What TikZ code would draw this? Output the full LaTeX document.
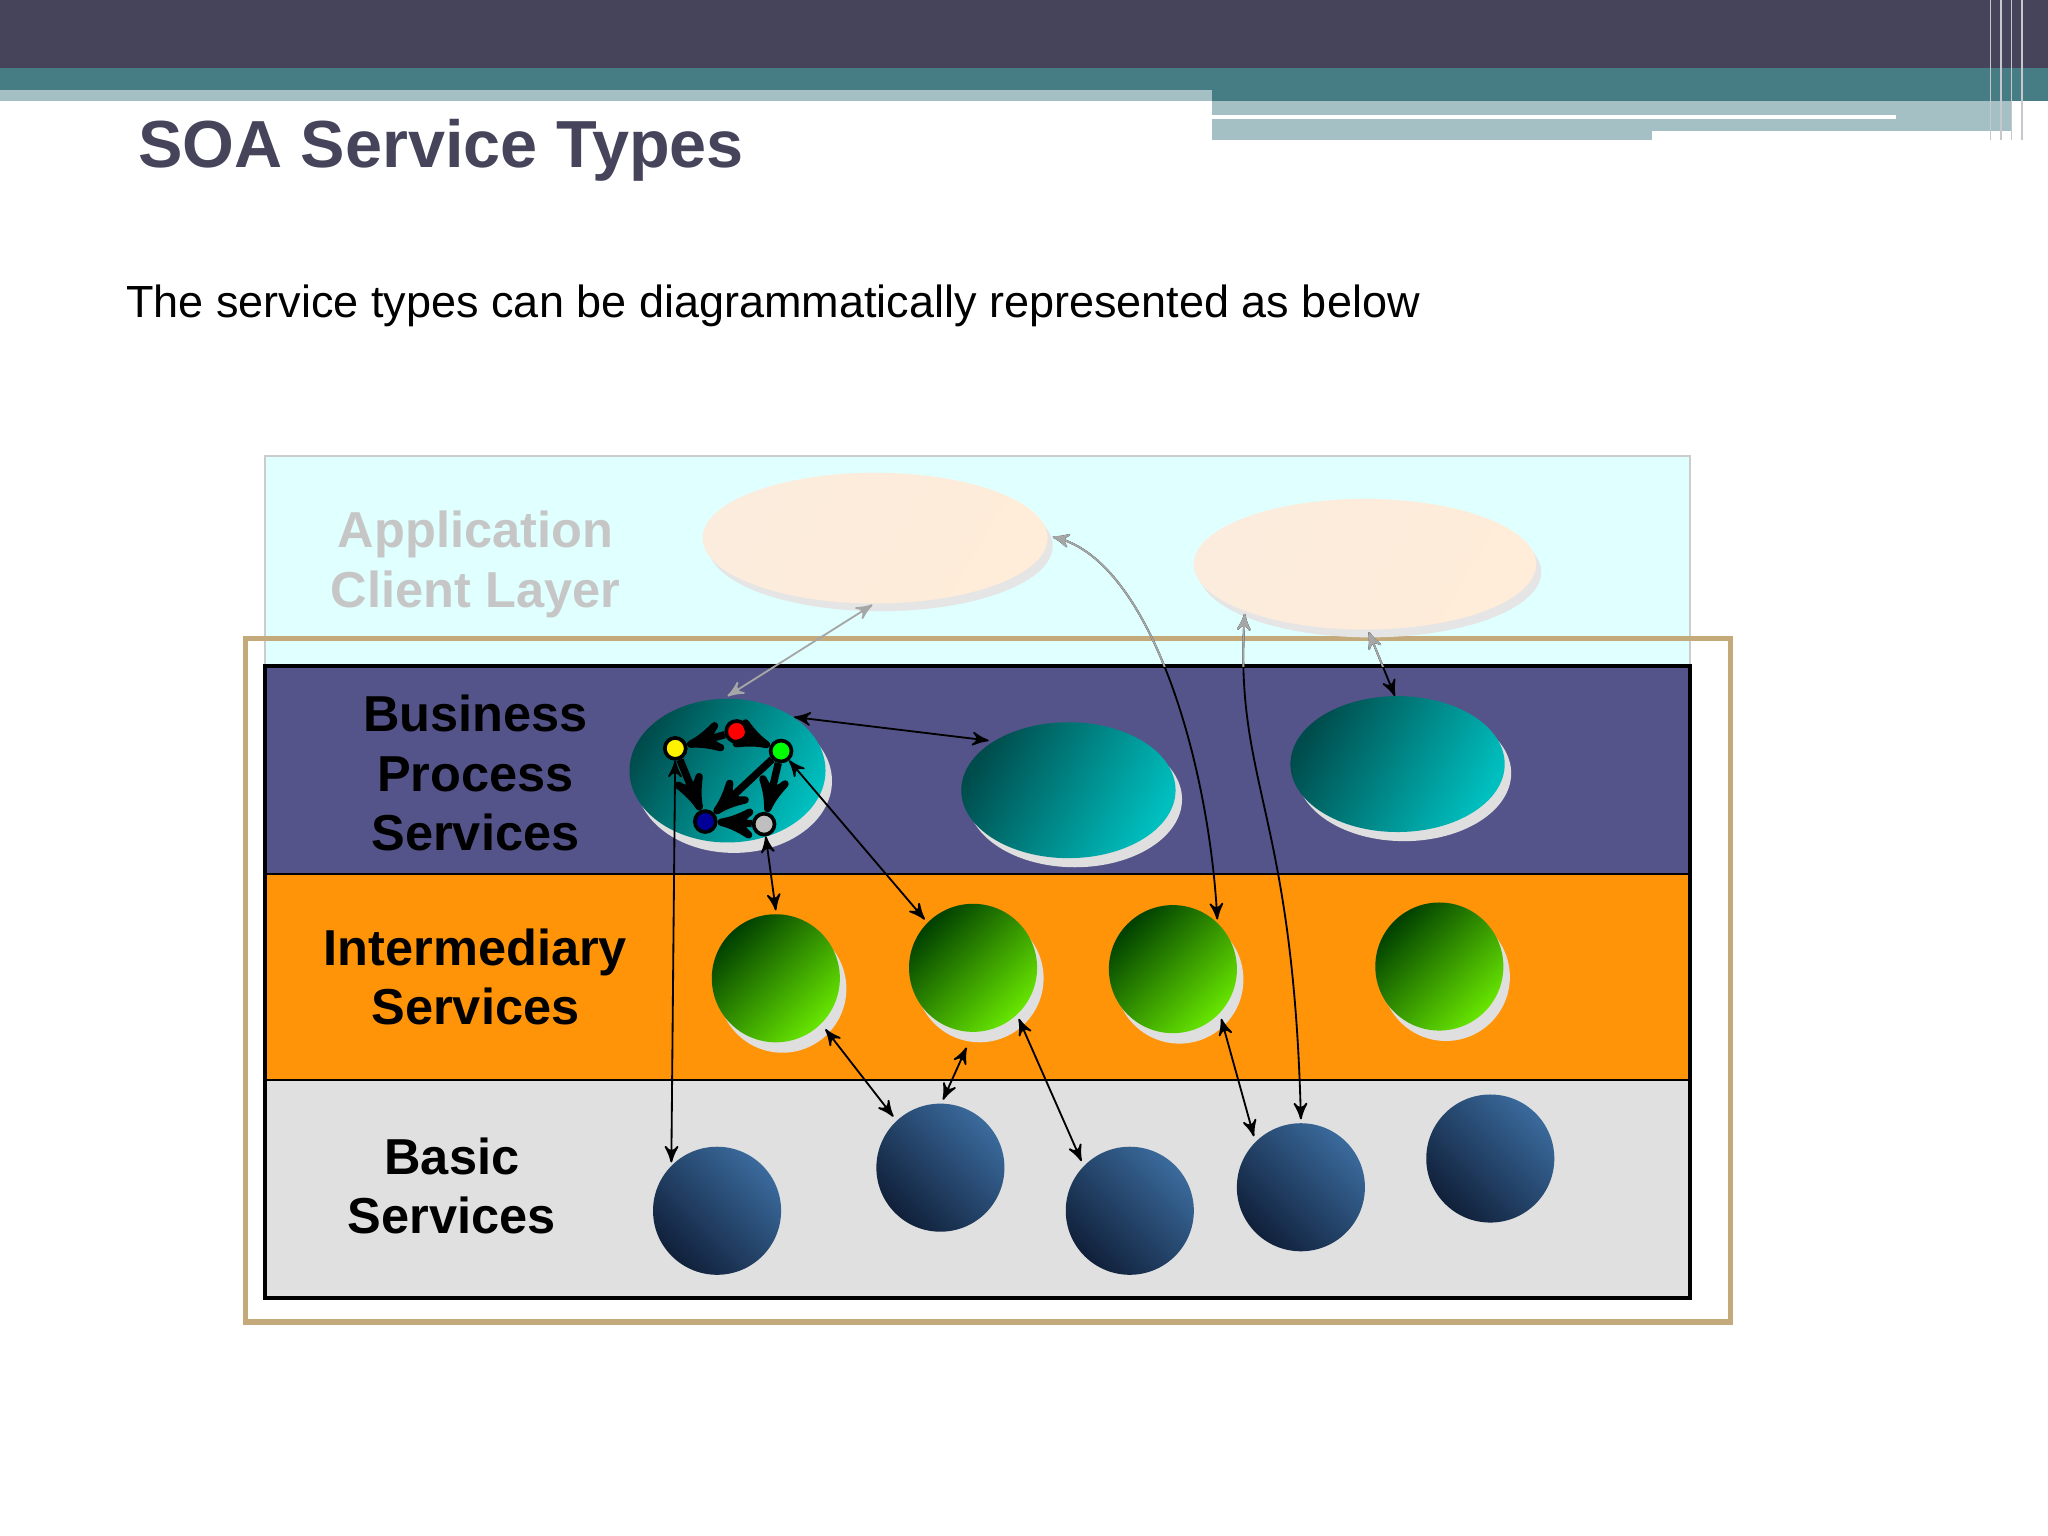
\documentclass[tikz,border=0pt]{standalone}
\usepackage{fontspec}
\setmainfont{Liberation Sans}
\usetikzlibrary{arrows, shapes.geometric}
\definecolor{hdark}{HTML}{45445A}
\definecolor{hteal}{HTML}{467D85}
\definecolor{hlight}{HTML}{A5C0C5}
\definecolor{appbg}{HTML}{E0FFFF}
\definecolor{bizbg}{HTML}{55548A}
\definecolor{midbg}{HTML}{FF9408}
\definecolor{basbg}{HTML}{E0E0E0}
\definecolor{frame}{HTML}{C4A97A}
\definecolor{balltop}{HTML}{3A6A9C}
\definecolor{ballbot}{HTML}{10203A}
\begin{document}
\begin{tikzpicture}[x=0.01cm, y=-0.01cm, >=stealth']
  \tikzstyle{lbl}=[font=\fontsize{11}{13}\selectfont\bfseries, align=center]
  \tikzstyle{app}=[ellipse, minimum width=2.64cm, minimum height=1cm, left color=white!85!gray!60!orange!30, right color=orange!15, shading angle=60]
  \tikzstyle{biz}=[ellipse, minimum width=1.64cm, minimum height=1.04cm, left color=teal!60!black, right color=cyan!50!teal, shading angle=60]
  \tikzstyle{mid}=[circle, minimum size=0.98cm, left color=green!25!black, right color=lime!60!green!90!black, shading angle=45]
  \tikzstyle{bas}=[circle, minimum size=0.98cm, left color=balltop, right color=ballbot, shading angle=-45]
  \tikzstyle{dot}=[circle, draw=black, thick, minimum size=0.16cm, inner sep=0pt]
  \tikzstyle{lnk}=[<->, black, thin]
  \tikzstyle{fat}=[->, black, line width=1.6pt]

  \useasboundingbox (0,0) rectangle (1568,1176);
  % header
  \fill[hdark] (0,0) rectangle (1568,52);
  \fill[hteal] (0,52) rectangle (1568,77);
  \fill[hlight] (0,69) rectangle (928,77);
  \fill[hlight] (928,77) rectangle (1540,107);
  \fill[white] (928,88) rectangle (1452,91);
  \fill[white] (1265,100) rectangle (1540,107);
  \foreach \x in {1524,1532,1540,1548} \draw[white!70!hdark, thin] (\x,0) -- (\x,107);

  \node[anchor=west, inner sep=0pt, text=hdark, font=\fontsize{14.5}{16}\selectfont\bfseries] (title) at (105,115) {SOA Service Types};
  \node[anchor=west, inner sep=0pt, font=\fontsize{9.8}{12}\selectfont] (sub) at (96,234) {The service types can be diagrammatically represented as below};

  % layers
  \draw[fill=appbg, draw=gray!40] (203,349) rectangle (1294,510);
  \fill[bizbg] (203,510) rectangle (1294,669);
  \fill[midbg] (203,669) rectangle (1294,827);
  \fill[basbg] (203,827) rectangle (1294,994);
  \draw[black, thick] (203,510) rectangle (1294,994);
  \draw[black] (203,669) -- (1294,669) (203,827) -- (1294,827);
  \draw[frame, line width=1.2pt] (188,489) rectangle (1325,1012);

  \node[lbl, text=gray!45] (lapp) at (364,432) {Application\\Client Layer};
  \node[lbl] (lbiz) at (364,592) {Business\\Process\\Services};
  \node[lbl] (lmid) at (364,748) {Intermediary\\Services};
  \node[lbl] (lbas) at (346,908) {Basic\\Services};

  % client ellipses
  \fill[gray!20] (674,418) ellipse (132 and 50);
  \node[app] (a1) at (670,412) {};
  \fill[gray!20] (1049,438) ellipse (131 and 50);
  \node[app, minimum width=2.62cm] (a2) at (1045,432) {};

  % business process ellipses
  \fill[gray!25] (562,598) ellipse (75 and 55);
  \node[biz, minimum width=1.5cm, minimum height=1.1cm] (b1) at (557,590) {};
  \fill[gray!25] (823,612) ellipse (82 and 52);
  \node[biz] (b2) at (818,605) {};
  \fill[gray!25] (1075,592) ellipse (82 and 52);
  \node[biz] (b3) at (1070,585) {};

  % intermediary
  \foreach \n/\x/\y in {m1/594/749, m2/745/741, m3/898/742, m4/1102/740} {
    \fill[gray!25] (\x+5,\y+8) circle (49);
    \node[mid] (\n) at (\x,\y) {};
  }
  % basic
  \foreach \n/\x/\y in {s1/549/927, s2/720/894, s3/865/927, s4/996/909, s5/1141/887}
    \node[bas] (\n) at (\x,\y) {};

  % internal dots
  \node[dot, fill=yellow] (dy) at (517,573) {};
  \node[dot, fill=red] (dr) at (564,560) {};
  \node[dot, fill=green] (dg) at (598,575) {};
  \node[dot, fill=blue!60!black] (dn) at (540,629) {};
  \node[dot, fill=gray!50] (dw) at (585,631) {};
  \draw[fat] (dr) -- (dy);
  \draw[fat] (dr) -- (dg);
  \draw[fat] (dy) -- (dn);
  \draw[fat] (dg) -- (dn);
  \draw[fat] (dg) -- (dw);
  \draw[fat] (dw) -- (dn);

  % connectors
  \coordinate (c1) at (668,463);
  \coordinate (c2) at (557,533);
  \coordinate (c3) at (806,411);
  \coordinate (c4) at (932,704);
  \coordinate (c5) at (953,470);
  \coordinate (c7) at (996,857);
  \coordinate (c8) at (1048,484);
  \coordinate (c9) at (1068,533);
  \draw[lnk, gray!70] (c1) -- (c2);
  \draw[lnk] (608,549) -- (757,567);
  \draw[lnk] (dg) -- (708,704);
  \draw[lnk] (dy) -- (514,890);
  \draw[lnk] (dw) -- (594,697);
  \draw[lnk] (632,788) -- (684,855);
  \draw[lnk] (740,802) -- (722,842);
  \draw[lnk] (780,780) -- (828,889);
  \draw[lnk] (935,780) -- (960,870);
  \draw[<->] (c3) .. controls (880,430) and (925,580) .. (c4);
  \draw[<->] (c5) .. controls (945,600) and (990,620) .. (c7);
  \draw[<->] (c8) -- (c9);
  % part over the client layer is grey
  \begin{scope}
    \clip (780,380) rectangle (1100,510);
    \draw[<->, gray!70] (c3) .. controls (880,430) and (925,580) .. (c4);
    \draw[<->, gray!70] (c5) .. controls (945,600) and (990,620) .. (c7);
    \draw[<->, gray!70] (c8) -- (c9);
  \end{scope}
\end{tikzpicture}
\end{document}
